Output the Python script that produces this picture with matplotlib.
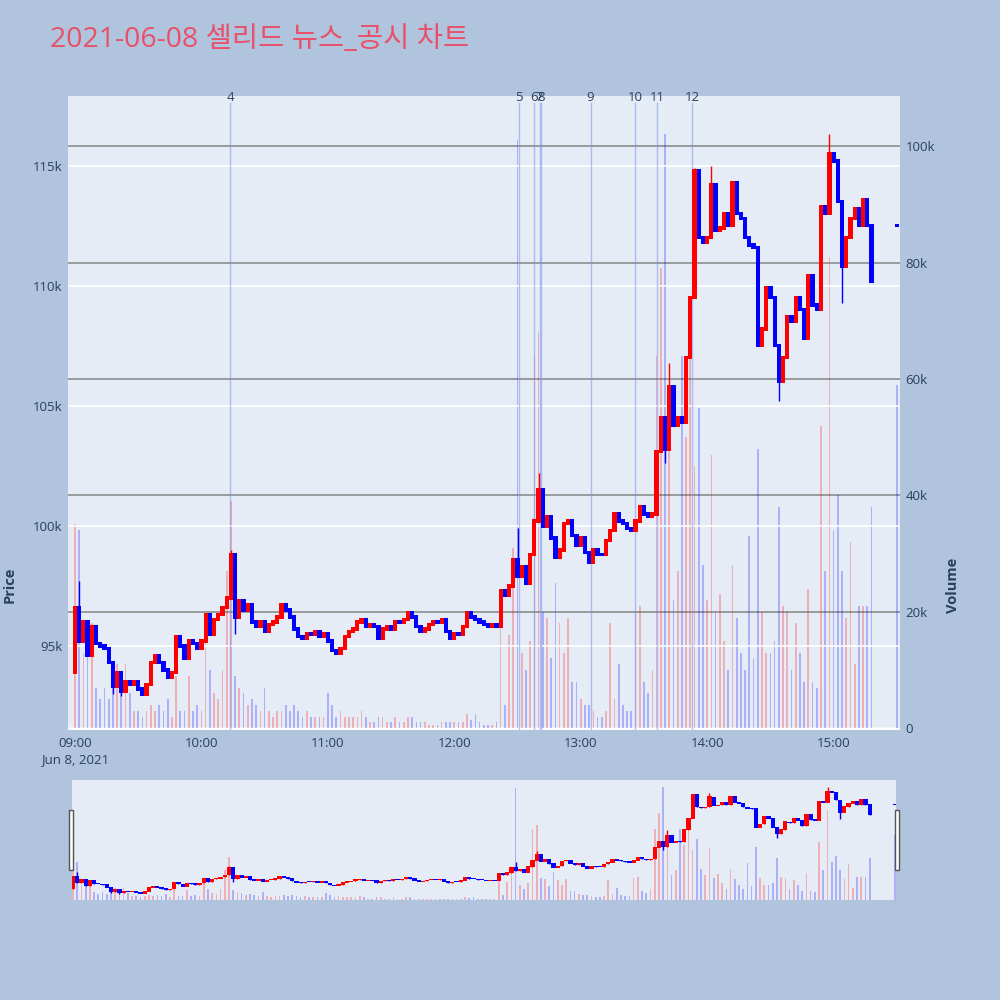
import matplotlib
matplotlib.use('Agg')
import matplotlib.pyplot as plt
from matplotlib.patches import Rectangle
from matplotlib.transforms import blended_transform_factory

# 2-minute candles from 09:00, price in thousand won
first_open = 93.9
close = [
    96.6, 95.2, 96.0, 94.6, 95.8, 95.1, 95.0, 94.9, 94.3, 93.3,
    93.9, 93.1, 93.5, 93.4, 93.5, 93.2, 93.0, 93.4, 94.3, 94.6,
    94.3, 94.0, 93.7, 93.9, 95.4, 95.0, 94.5, 95.2, 95.1, 94.9,
    95.2, 96.3, 95.5, 96.1, 96.3, 96.6, 97.0, 98.8, 96.2, 96.9,
    96.5, 96.7, 96.0, 95.8, 96.0, 95.6, 95.9, 96.0, 96.2, 96.7,
    96.5, 96.2, 95.7, 95.4, 95.3, 95.5, 95.5, 95.6, 95.4, 95.5,
    95.2, 94.8, 94.7, 94.9, 95.4, 95.6, 95.7, 96.0, 96.1, 95.8,
    95.9, 95.8, 95.3, 95.7, 95.8, 95.7, 96.0, 96.0, 96.1, 96.4,
    96.2, 95.8, 95.6, 95.7, 95.9, 96.0, 96.0, 96.1, 95.6, 95.3,
    95.5, 95.5, 95.8, 96.4, 96.2, 96.1, 96.0, 95.9, 95.8, 95.9,
    95.8, 97.3, 97.1, 97.5, 98.6, 97.9, 98.3, 97.6, 98.8, 100.2,
    101.5, 100.0, 100.4, 99.5, 98.7, 99.0, 100.1, 100.2, 99.6, 99.2,
    99.5, 98.9, 98.5, 99.0, 98.8, 98.8, 99.4, 99.8, 100.5, 100.2,
    100.1, 99.9, 99.8, 100.2, 100.8, 100.5, 100.4, 100.5, 103.1, 104.5,
    103.2, 105.8, 104.2, 104.5, 104.3, 107.0, 109.5, 114.8, 112.0, 111.8,
    112.0, 114.2, 112.3, 112.4, 113.0, 112.5, 114.3, 113.0, 112.8, 112.0,
    111.7, 111.6, 107.5, 108.2, 109.9, 109.5, 107.5, 106.0, 107.0, 108.7,
    108.5, 109.5, 109.0, 107.8, 110.4, 109.2, 109.0, 113.3, 113.0, 115.5,
    115.2, 113.5, 110.8, 112.0, 112.8, 113.2, 112.5, 113.6, 112.5, 110.2,
]
high_spikes = {1: 97.7, 37: 99.0, 105: 99.9, 110: 102.2, 141: 106.8,
               147: 114.9, 151: 115.0, 179: 116.3}
low_spikes = {9: 93.0, 11: 92.9, 38: 95.5, 140: 102.6, 167: 105.2, 182: 109.3}

# volume in thousand shares
volume = [
    35, 34, 13, 14, 18, 7, 5, 7, 5, 9,
    11, 8, 11, 6, 3, 3, 2, 3, 4, 3,
    4, 3, 5, 2, 9, 3, 3, 9, 3, 4,
    3, 19, 10, 6, 5, 10, 27, 39, 9, 7,
    6, 4, 5, 4, 3, 7, 3, 2, 3, 3,
    4, 3, 4, 3, 2, 3, 2, 2, 2, 2,
    6, 4, 2, 3, 2, 2, 2, 2, 3, 2,
    1, 1, 2, 2, 1, 1, 2, 1, 1, 2,
    2, 1, 1, 1, 0.5, 0.5, 0.5, 1, 1, 1,
    1, 1, 1, 2.5, 1.5, 2.5, 1, 0.5, 0.5, 0.5,
    1, 18, 4, 16, 31, 101, 13, 10, 15, 64,
    68, 20, 19, 12, 25, 18, 13, 19, 8, 8,
    5, 4, 4, 3, 2, 2, 3, 18, 5, 11,
    4, 3, 3, 20, 21, 8, 6, 10, 64, 79,
    102, 49, 22, 27, 64, 50, 67, 45, 55, 28,
    22, 47, 20, 23, 15, 10, 28, 19, 13, 10,
    33, 12, 48, 20, 13, 13, 15, 38, 21, 20,
    10, 18, 13, 8, 24, 8, 7, 52, 27, 81,
    34, 40, 27, 19, 32, 11, 21, 21, 21, 38,
]
auction_price = 112.5
auction_volume = 59

news_labels = ['4', '5', '6', '7', '8', '9', '10', '11', '12']
news_minutes = [73.7, 210.7, 217.8, 220.5, 221.0, 244.7, 265.9, 276.1, 293.0]

# build candles
minutes = [2 * i for i in range(len(close))] + [390]
opens = [first_open] + close[:-1] + [auction_price]
closes = close + [auction_price]
highs = [max(o, c) for o, c in zip(opens, closes)]
lows = [min(o, c) for o, c in zip(opens, closes)]
for i, v in high_spikes.items():
    highs[i] = v
for i, v in low_spikes.items():
    lows[i] = v
vols = volume + [auction_volume]
colors = ['red' if c > o else 'blue' for o, c in zip(opens, closes)]

BG = '#B0C4DE'
PLOT_BG = '#E5ECF6'
TXT = '#2a3f5f'
FONT = ['Open Sans', 'DejaVu Sans']

plt.rcParams['font.family'] = FONT

fig = plt.figure(figsize=(10, 10), dpi=100)
fig.patch.set_facecolor(BG)


def draw(ax_v, ax_p):
    ax_v.bar(minutes, vols, width=0.8, color=colors, alpha=0.25, lw=0, zorder=2)
    ax_p.vlines(minutes, lows, highs, colors=colors, lw=1.0, zorder=4)
    bottoms = [min(o, c) - 0.07 for o, c in zip(opens, closes)]
    heights = [abs(c - o) + 0.14 for o, c in zip(opens, closes)]
    ax_p.bar(minutes, heights, bottom=bottoms, width=2.0, color=colors, lw=0, zorder=4)
    ax_v.set_ylim(-0.3, 108.6)
    ax_p.set_ylim(91.5, 117.9)
    ax_v.set_facecolor(PLOT_BG)
    ax_p.set_zorder(ax_v.get_zorder() + 1)
    ax_p.patch.set_visible(False)
    for a in (ax_v, ax_p):
        for s in a.spines.values():
            s.set_visible(False)


# main chart
ax_v = fig.add_axes([0.068, 0.270, 0.832, 0.634])
ax_p = ax_v.twinx()
draw(ax_v, ax_p)
ax_p.set_xlim(-3.3, 391.5)

# price on the left, volume on the right
ax_p.yaxis.tick_left()
ax_v.yaxis.tick_right()
ax_p.set_yticks([95, 100, 105, 110, 115])
ax_p.set_yticklabels(['95k', '100k', '105k', '110k', '115k'])
ax_v.set_yticks([0, 20, 40, 60, 80, 100])
ax_v.set_yticklabels(['0', '20k', '40k', '60k', '80k', '100k'])
ax_p.tick_params(axis='y', length=0, pad=4, labelsize=9.5, labelcolor=TXT)
ax_v.tick_params(axis='y', length=0, pad=4, labelsize=9.5, labelcolor=TXT)

ax_v.set_xticks([0, 60, 120, 180, 240, 300, 360])
ax_v.set_xticklabels(['09:00\nJun 8, 2021', '10:00', '11:00', '12:00', '13:00', '14:00', '15:00'],
                     va='top', linespacing=1.3)
ax_v.tick_params(axis='x', length=0, pad=5, labelsize=9.5, labelcolor=TXT)
ax_p.tick_params(axis='x', bottom=False, labelbottom=False)

ax_v.set_axisbelow(True)
ax_v.grid(axis='y', color='#8c8c8c', lw=1.2)
ax_v.axhline(0, color='white', lw=2, zorder=1)
ax_p.set_axisbelow(True)
ax_p.grid(axis='y', color='white', lw=1.2)

# news markers
trans = blended_transform_factory(ax_p.transData, ax_p.transAxes)
for t, lab in zip(news_minutes, news_labels):
    ax_p.axvline(t, ymin=0, ymax=0.989, color='#7d96f0', alpha=0.55, lw=1, zorder=3)
    ax_p.text(t, 0.998, lab, transform=trans, ha='center', va='center',
              fontsize=9.5, color=TXT)

fig.text(0.010, 0.415, 'Price', rotation=90, ha='center', va='center',
         fontsize=10.5, fontweight='bold', color=TXT)
fig.text(0.953, 0.415, 'Volume', rotation=90, ha='center', va='center',
         fontsize=10.5, fontweight='bold', color=TXT)

fig.text(0.050, 0.960, '2021-06-08 셀리드 뉴스_공시 차트', ha='left', va='center',
         fontsize=20.5, color='#E9506A', family=['Open Sans', 'Noto Sans CJK KR'])

# range slider
sv = fig.add_axes([0.072, 0.100, 0.824, 0.120])
sp = sv.twinx()
draw(sv, sp)
sp.set_xlim(-0.5, 390.5)
for a in (sv, sp):
    a.set_xticks([])
    a.set_yticks([])

for x0 in (0.069, 0.895):
    fig.patches.append(Rectangle((x0, 0.130), 0.004, 0.060, transform=fig.transFigure,
                                 facecolor='white', edgecolor='#555555', lw=1))

fig.savefig('out.png', dpi=100, facecolor=BG)
